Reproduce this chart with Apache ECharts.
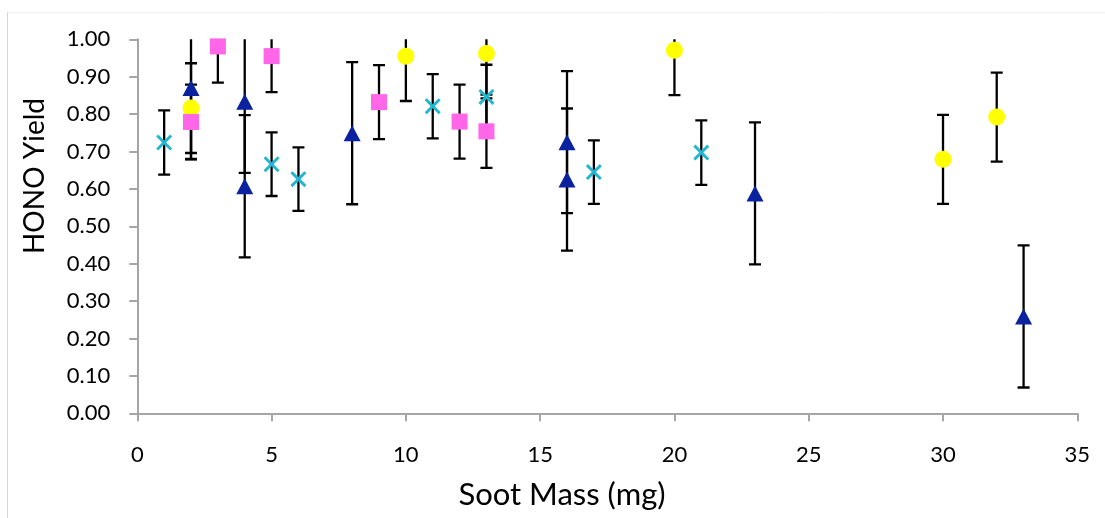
<!DOCTYPE html>
<html>
<head>
<meta charset="utf-8">
<script src="https://cdn.jsdelivr.net/npm/echarts@6/dist/echarts.min.js"></script>
<style>
html,body{margin:0;padding:0;background:#fff;}
#c{width:1105px;height:518px;}
</style>
</head>
<body>
<div id="c"></div>
<script>
// ---- data ----
const xTicks = [0, 5, 10, 15, 20, 25, 30, 35];
const yTicks = [0, 0.1, 0.2, 0.3, 0.4, 0.5, 0.6, 0.7, 0.8, 0.9, 1.0];

const triMass  = [2, 4, 4, 8, 16, 16, 23, 33];
const triYield = [0.870, 0.833, 0.607, 0.749, 0.725, 0.625, 0.588, 0.259];
const triErr   = [0.19, 0.19, 0.19, 0.19, 0.19, 0.19, 0.19, 0.19];

const crossMass  = [1, 5, 6, 11, 13, 17, 21];
const crossYield = [0.724, 0.666, 0.626, 0.821, 0.846, 0.645, 0.697];
const crossErr   = [0.086, 0.085, 0.085, 0.086, 0.086, 0.085, 0.086];

const circMass  = [2, 10, 13, 20, 30, 32];
const circYield = [0.816, 0.955, 0.962, 0.971, 0.679, 0.792];
const circErr   = [0.12, 0.12, 0.12, 0.12, 0.119, 0.119];

const sqMass  = [2, 3, 5, 9, 12, 13];
const sqYield = [0.779, 0.981, 0.955, 0.832, 0.780, 0.754];
const sqErr   = [0.10, 0.097, 0.096, 0.099, 0.099, 0.098];

const xTitle = 'Soot Mass (mg)';
const yTitle = 'HONO Yield';

// ---- build chart ----
const FONT = 'Lato, "Open Sans", "Liberation Sans", sans-serif';
const plot = {left: 137.3, right: 1077.3, top: 39.3, bottom: 413.3};

function pts(xs, ys) { return xs.map((x, i) => [x, ys[i]]); }
function errData(xs, ys, es) { return xs.map((x, i) => [x, ys[i] - es[i], ys[i] + es[i]]); }

function errSeries(xs, ys, es) {
  return {
    type: 'custom',
    clip: true,
    silent: true,
    data: errData(xs, ys, es),
    renderItem: function (params, api) {
      const x = api.value(0);
      const lo = api.coord([x, api.value(1)]);
      const hi = api.coord([x, api.value(2)]);
      const w = 6;
      const st = {stroke: '#000', lineWidth: 2.3};
      return {
        type: 'group',
        children: [
          {type: 'line', shape: {x1: lo[0], y1: lo[1], x2: hi[0], y2: hi[1]}, style: st},
          {type: 'line', shape: {x1: lo[0] - w, y1: lo[1], x2: lo[0] + w, y2: lo[1]}, style: st},
          {type: 'line', shape: {x1: hi[0] - w, y1: hi[1], x2: hi[0] + w, y2: hi[1]}, style: st}
        ]
      };
    }
  };
}

const crossPath = 'path://M0,2.6 L2.6,0 L10,7.4 L17.4,0 L20,2.6 L12.6,10 L20,17.4 L17.4,20 L10,12.6 L2.6,20 L0,17.4 L7.4,10 Z';

function scat(xs, ys, symbol, size, color) {
  return {
    type: 'scatter',
    clip: false,
    data: pts(xs, ys),
    symbol: symbol,
    symbolSize: size,
    itemStyle: {color: color, opacity: 1},
    emphasis: {disabled: true}
  };
}

const axisLineStyle = {color: '#a6a6a6', width: 2};

const option = {
  animation: false,
  backgroundColor: '#ffffff',
  grid: {
    left: plot.left,
    top: plot.top,
    width: plot.right - plot.left,
    height: plot.bottom - plot.top,
    containLabel: false
  },
  xAxis: {
    type: 'value',
    min: xTicks[0],
    max: xTicks[xTicks.length - 1],
    interval: xTicks[1] - xTicks[0],
    splitLine: {show: false},
    axisLine: {show: true, onZero: false, lineStyle: axisLineStyle},
    axisTick: {show: true, inside: false, length: 8, lineStyle: axisLineStyle},
    axisLabel: {fontFamily: FONT, fontSize: 22, color: '#000', margin: 31,
      formatter: v => String(v)}
  },
  yAxis: {
    type: 'value',
    min: yTicks[0],
    max: yTicks[yTicks.length - 1],
    interval: 0.1,
    splitLine: {show: false},
    axisLine: {show: true, onZero: false, lineStyle: axisLineStyle},
    axisTick: {show: true, inside: false, length: 8, lineStyle: axisLineStyle},
    axisLabel: {fontFamily: FONT, fontSize: 22, color: '#000', margin: 27,
      formatter: v => v.toFixed(2)}
  },
  graphic: [
    {type: 'line', shape: {x1: 7.5, y1: 12, x2: 7.5, y2: 518}, style: {stroke: '#d4d4d4', lineWidth: 1}, silent: true},
    {type: 'line', shape: {x1: 7.5, y1: 12.5, x2: 1105, y2: 12.5}, style: {stroke: '#f2f2f2', lineWidth: 1}, silent: true},
    {type: 'text', x: 562, y: 479, style: {text: xTitle, font: '31px ' + FONT, fill: '#000', textAlign: 'center', textVerticalAlign: 'top'}},
    {type: 'text', rotation: Math.PI / 2, x: 21, y: 176,
      style: {text: yTitle, font: '28px ' + FONT, fill: '#000', textAlign: 'center', textVerticalAlign: 'top'}}
  ],
  series: [
    errSeries(triMass, triYield, triErr),
    scat(triMass, triYield, 'triangle', [17, 16], '#0a22a0'),
    errSeries(crossMass, crossYield, crossErr),
    scat(crossMass, crossYield, crossPath, 16, '#22b6d0'),
    errSeries(circMass, circYield, circErr),
    scat(circMass, circYield, 'circle', 17, '#ffff00'),
    errSeries(sqMass, sqYield, sqErr),
    scat(sqMass, sqYield, 'rect', 16, '#ff66e8')
  ]
};

const chart = echarts.init(document.getElementById('c'), null, {renderer: 'canvas'});
chart.setOption(option);
</script>
</body>
</html>
